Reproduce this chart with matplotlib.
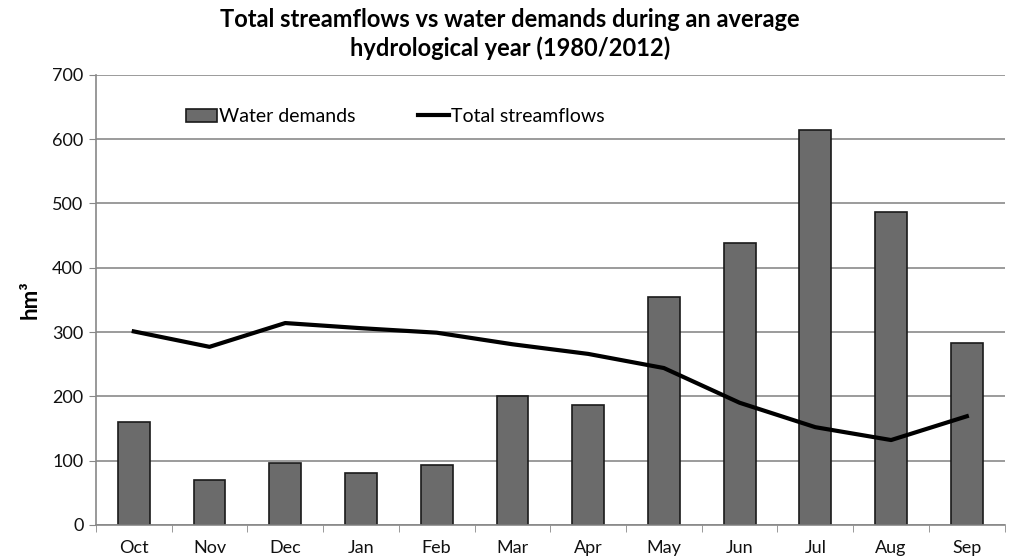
import numpy as np
import matplotlib.pyplot as plt
from matplotlib.ticker import FixedLocator, NullFormatter

plt.rcParams['font.family'] = ['Lato', 'DejaVu Sans']

months = ['Oct', 'Nov', 'Dec', 'Jan', 'Feb', 'Mar', 'Apr', 'May', 'Jun', 'Jul', 'Aug', 'Sep']
water_demands = [160, 70, 96, 81, 93, 201, 187, 354, 438, 615, 487, 283]
total_streamflows = [301, 277, 314, 306, 299, 281, 266, 244, 190, 152, 132, 169]
yticks = [0, 100, 200, 300, 400, 500, 600, 700]

fig = plt.figure(figsize=(10.2, 5.59), dpi=100)
ax = fig.add_axes([0.094, 0.061, 0.891, 0.805])

x = np.arange(len(months))
bars = ax.bar(x, water_demands, width=0.42, color='#6b6b6b', edgecolor='#1a1a1a',
              linewidth=1.2, label='Water demands', zorder=2)
line, = ax.plot(x, total_streamflows, color='black', linewidth=3, label='Total streamflows', zorder=3)

ax.set_xlim(-0.5, 11.5)
ax.set_ylim(0, 700)
ax.set_yticks(yticks)
ax.set_xticks(x)
ax.set_xticklabels(months, fontsize=13)
ax.tick_params(axis='x', length=0, pad=11, labelcolor='#111111')
ax.xaxis.set_minor_locator(FixedLocator(np.arange(-0.5, 12, 1)))
ax.xaxis.set_minor_formatter(NullFormatter())
ax.tick_params(axis='x', which='minor', length=5, color='#888888', direction='out')
ax.tick_params(axis='y', length=5, color='#888888', labelsize=13, pad=4, labelcolor='#111111')
ax.grid(axis='y', color='#8a8a8a', linewidth=1.2, zorder=0)
ax.set_axisbelow(True)

for s in ['top', 'right']:
    ax.spines[s].set_visible(False)
ax.spines['left'].set_color('#888888')
ax.spines['bottom'].set_color('#888888')
ax.spines['left'].set_linewidth(1.2)
ax.spines['bottom'].set_linewidth(1.2)

ax.set_ylabel('hm³', fontsize=16, fontweight='bold', labelpad=8)
fig.text(0.5, 0.985, 'Total streamflows vs water demands during an average\nhydrological year (1980/2012)',
         ha='center', va='top', fontsize=17, fontweight='bold', linespacing=1.25)

ax.legend([bars, line], ['Water demands', 'Total streamflows'],
          loc='upper left', bbox_to_anchor=(0.08, 0.965), ncol=2, frameon=False,
          fontsize=14, handlelength=1.6, handletextpad=0.1, columnspacing=3.2)

fig.savefig('out.png', dpi=100)
